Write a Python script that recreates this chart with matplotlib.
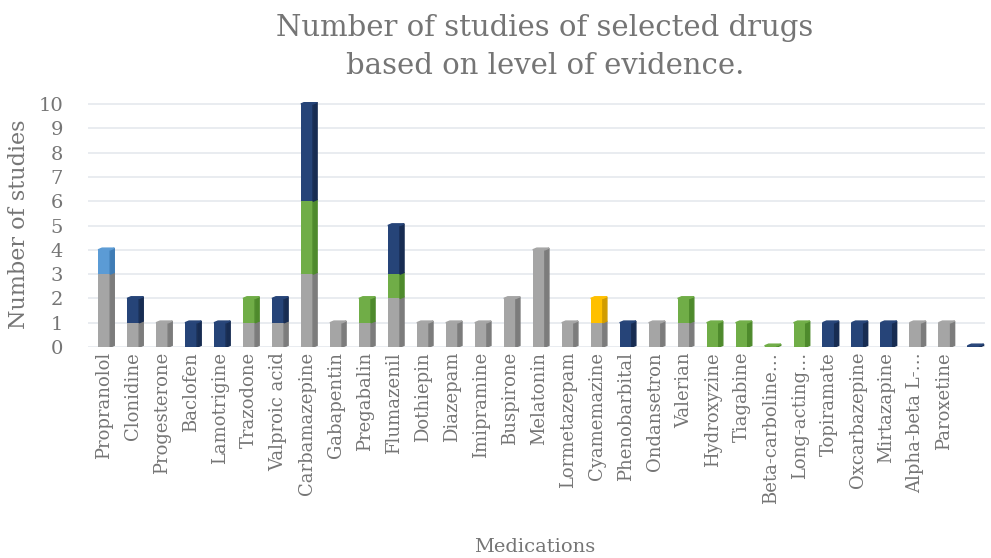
import numpy as np
import matplotlib.pyplot as plt
from matplotlib.patches import Polygon

drugs = ['Propranolol', 'Clonidine', 'Progesterone', 'Baclofen', 'Lamotrigine',
         'Trazodone', 'Valproic acid', 'Carbamazepine', 'Gabapentin', 'Pregabalin',
         'Flumazenil', 'Dothiepin', 'Diazepam', 'Imipramine', 'Buspirone',
         'Melatonin', 'Lormetazepam', 'Cyamemazine', 'Phenobarbital', 'Ondansetron',
         'Valerian', 'Hydroxyzine', 'Tiagabine', 'Beta-carboline…', 'Long-acting…',
         'Topiramate', 'Oxcarbazepine', 'Mirtazapine', 'Alpha-beta L-…', 'Paroxetine', '']

gray = [3, 1, 1, 0, 0, 1, 1, 3, 1, 1, 2, 1, 1, 1, 2, 4, 1, 1, 0, 1, 1, 0, 0, 0, 0, 0, 0, 0, 1, 1, 0]
green = [0, 0, 0, 0, 0, 1, 0, 3, 0, 1, 1, 0, 0, 0, 0, 0, 0, 0, 0, 0, 1, 1, 1, 0.05, 1, 0, 0, 0, 0, 0, 0]
darkblue = [0, 1, 0, 1, 1, 0, 1, 4, 0, 0, 2, 0, 0, 0, 0, 0, 0, 0, 1, 0, 0, 0, 0, 0, 0, 1, 1, 1, 0, 0, 0.05]
lightblue = [1] + [0] * 30
yellow = [0] * 17 + [1] + [0] * 13

series = [(gray, '#a5a5a5', '#7c7c7c'),
          (green, '#70ad47', '#4e8a2c'),
          (darkblue, '#264478', '#172c52'),
          (lightblue, '#5b9bd5', '#3f7cb5'),
          (yellow, '#ffc000', '#d19c00')]

txt = '#757575'
plt.rcParams['font.family'] = ['DejaVu Serif']

fig = plt.figure(figsize=(9.91, 5.58), dpi=100)
ax = fig.add_axes([0.089, 0.378, 0.905, 0.44])

x = np.arange(len(drugs))
w = 0.42
dx, dy = 0.14, 0.07
bottom = np.zeros(len(drugs))
for vals, col, dark in series:
    vals = np.array(vals, dtype=float)
    ax.bar(x, vals, w, bottom=bottom, color=col, zorder=3)
    for i in range(len(x)):
        if vals[i] > 0:
            x1 = x[i] + w / 2
            b, t = bottom[i], bottom[i] + vals[i]
            ax.add_patch(Polygon([(x1, b), (x1 + dx, b + dy), (x1 + dx, t + dy), (x1, t)],
                                 closed=True, color=dark, zorder=3))
    bottom += vals
for i in range(len(x)):
    if bottom[i] > 0:
        # top face takes the colour of the uppermost segment
        for vals, col, dark in reversed(series):
            if vals[i] > 0:
                c = col
                break
        x0 = x[i] - w / 2
        t = bottom[i]
        ax.add_patch(Polygon([(x0, t), (x0 + w, t), (x0 + w + dx, t + dy), (x0 + dx, t + dy)],
                             closed=True, color=c, zorder=3))

ax.set_xlim(-0.55, 30.4)
ax.set_ylim(0, 10.1)
ax.set_yticks(range(11))
ax.grid(axis='y', color='#e3e7ec', linewidth=1.1, zorder=0)
for s in ax.spines.values():
    s.set_visible(False)
ax.tick_params(length=0, colors=txt)
ax.tick_params(axis='y', pad=18)
ax.set_xticks(x)
ax.set_xticklabels(drugs, rotation=90, fontsize=13, color=txt)
for lab in ax.get_yticklabels():
    lab.set_fontsize(14)
ax.set_ylabel('Number of studies', fontsize=16, color=txt, labelpad=6)
fig.text(0.54, 0.01, 'Medications', ha='center', fontsize=14, color=txt)
fig.text(0.55, 0.975, 'Number of studies of selected drugs\nbased on level of evidence.',
         ha='center', va='top', fontsize=21, color=txt, linespacing=1.45)

fig.savefig('out.png', dpi=100)
